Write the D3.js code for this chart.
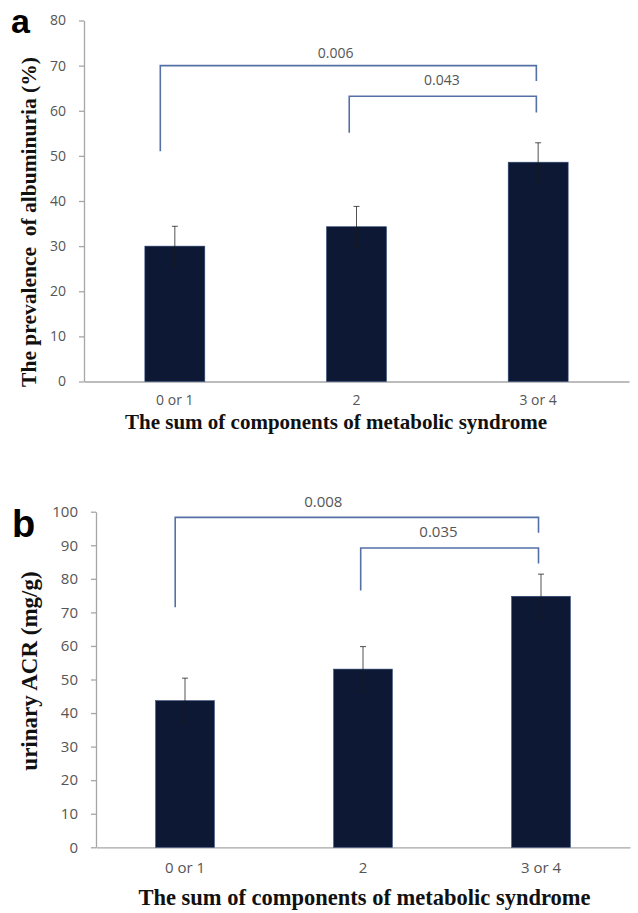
<!DOCTYPE html>
<html>
<head>
<meta charset="utf-8">
<script src="https://cdn.jsdelivr.net/npm/d3@7/dist/d3.min.js"></script>
<style>
  html, body { margin: 0; padding: 0; background: #fff; }
  svg { display: block; }
</style>
</head>
<body>
<svg id="chart" width="638" height="913"></svg>
<script>
// ---------- data ----------
const categories = ["0 or 1", "2", "3 or 4"];

const prevalenceValues = [30.0, 34.3, 48.6];
const prevalenceErrors = [4.4, 4.5, 4.3];
const prevalenceTicks = [0, 10, 20, 30, 40, 50, 60, 70, 80];

const acrValues = [43.7, 53.1, 74.8];
const acrErrors = [6.7, 6.7, 6.6];
const acrTicks = [0, 10, 20, 30, 40, 50, 60, 70, 80, 90, 100];

// brackets: endpoints as (fractional) category index, heights in data units
const prevalenceBrackets = [
  { from: -0.08, to: 1.99, top: 70.0, fromBottom: 51.0, toBottom: 66.6, label: "0.006", labelAt: 0.885, labelY: 72.9 },
  { from: 0.96,  to: 1.99, top: 63.2, fromBottom: 55.1, toBottom: 59.6, label: "0.043", labelAt: 1.47,  labelY: 66.9 }
];
const acrBrackets = [
  { from: -0.055, to: 1.986, top: 98.3, fromBottom: 71.5, toBottom: 93.7, label: "0.008", labelAt: 0.777, labelY: 103.3 },
  { from: 0.987,  to: 1.986, top: 89.2, fromBottom: 76.5, toBottom: 84.6, label: "0.035", labelAt: 1.424, labelY: 94.3 }
];

// ---------- drawing ----------
const svg = d3.select("#chart");
const BAR = "#0c1834";
const BRACKET = "#5470a6";
const TEXT = "#555555";
const AXIS = "#a6a6a6";
const SANS = "'Open Sans', Lato, sans-serif";

function drawPanel(cfg) {
  const g = svg.append("g");
  const x = d3.scaleBand().domain(categories).range([cfg.x0, cfg.x1]).paddingInner(0.67).paddingOuter(0.335);
  const y = d3.scaleLinear().domain([0, cfg.max]).range([cfg.y0, cfg.y1]);
  const xi = d3.scaleLinear().domain([0, 2])
    .range([x(categories[0]) + x.bandwidth() / 2, x(categories[2]) + x.bandwidth() / 2]);

  // y axis
  const yAxis = d3.axisLeft(y).tickValues(cfg.ticks).tickSize(5).tickPadding(13).tickSizeOuter(0);
  const ya = g.append("g").attr("transform", `translate(${cfg.x0},0)`).call(yAxis);
  ya.select(".domain").attr("stroke", AXIS).attr("stroke-width", 1.3);
  ya.selectAll(".tick line").attr("stroke", AXIS).attr("stroke-width", 1.3);
  ya.selectAll(".tick text").attr("fill", TEXT).attr("font-family", SANS).attr("font-size", cfg.tickSize);

  // x axis
  const xAxis = d3.axisBottom(x).tickSize(0).tickPadding(cfg.xPad);
  const xa = g.append("g").attr("transform", `translate(0,${cfg.y0})`).call(xAxis);
  xa.select(".domain").attr("stroke", AXIS).attr("stroke-width", 1.3);
  xa.selectAll(".tick text").attr("fill", TEXT).attr("font-family", SANS).attr("font-size", cfg.tickSize);

  // bars
  g.selectAll("rect.bar").data(cfg.values).join("rect")
    .attr("class", "bar")
    .attr("x", (d, i) => x(categories[i]))
    .attr("width", x.bandwidth())
    .attr("y", d => y(d))
    .attr("height", d => y(0) - y(d))
    .attr("fill", BAR)
    .attr("stroke", "#34497a").attr("stroke-width", 0.6);

  // error bars
  const eb = g.selectAll("g.err").data(cfg.values).join("g").attr("class", "err");
  eb.append("line")
    .attr("x1", (d, i) => x(categories[i]) + x.bandwidth() / 2)
    .attr("x2", (d, i) => x(categories[i]) + x.bandwidth() / 2)
    .attr("y1", (d, i) => y(d - cfg.errors[i]))
    .attr("y2", (d, i) => y(d + cfg.errors[i]));
  eb.append("line")
    .attr("x1", (d, i) => x(categories[i]) + x.bandwidth() / 2 - 3)
    .attr("x2", (d, i) => x(categories[i]) + x.bandwidth() / 2 + 3)
    .attr("y1", (d, i) => y(d + cfg.errors[i]))
    .attr("y2", (d, i) => y(d + cfg.errors[i]));
  eb.append("line")
    .attr("x1", (d, i) => x(categories[i]) + x.bandwidth() / 2 - 3)
    .attr("x2", (d, i) => x(categories[i]) + x.bandwidth() / 2 + 3)
    .attr("y1", (d, i) => y(d - cfg.errors[i]))
    .attr("y2", (d, i) => y(d - cfg.errors[i]));
  eb.selectAll("line").attr("stroke", "#1a1a1a").attr("stroke-width", 1).attr("opacity", 0.75);

  // brackets
  const br = g.selectAll("g.br").data(cfg.brackets).join("g").attr("class", "br");
  br.append("path")
    .attr("d", d => `M${xi(d.from)},${y(d.fromBottom)}V${y(d.top)}H${xi(d.to)}V${y(d.toBottom)}`)
    .attr("fill", "none").attr("stroke", BRACKET).attr("stroke-width", 1.6);
  br.append("text")
    .attr("x", d => xi(d.labelAt))
    .attr("y", d => y(d.labelY))
    .attr("text-anchor", "middle")
    .attr("dominant-baseline", "central")
    .attr("fill", TEXT)
    .attr("font-family", SANS)
    .attr("font-size", cfg.tickSize)
    .text(d => d.label);

  // y title
  g.append("text")
    .attr("transform", `translate(${cfg.yTitleX},${cfg.yTitleY}) rotate(-90)`)
    .attr("text-anchor", "middle")
    .attr("font-family", "'Liberation Serif', 'Times New Roman', serif")
    .attr("font-weight", "bold")
    .attr("font-size", cfg.yTitleSize)
    .attr("fill", "#111")
    .style("white-space", "pre")
    .text(cfg.yTitle);

  // x title
  g.append("text")
    .attr("x", cfg.xTitleX)
    .attr("y", cfg.xTitleY)
    .attr("text-anchor", "middle")
    .attr("font-family", "'Liberation Serif', 'Times New Roman', serif")
    .attr("font-weight", "bold")
    .attr("font-size", cfg.xTitleSize)
    .attr("fill", "#111")
    .text("The sum of components of metabolic syndrome");

  // panel letter
  g.append("text")
    .attr("x", cfg.letterX)
    .attr("y", cfg.letterY)
    .attr("font-family", "'Liberation Sans', Arial, sans-serif")
    .attr("font-weight", "bold")
    .attr("font-size", cfg.letterSize)
    .attr("fill", "#000")
    .text(cfg.letter);
}

drawPanel({
  values: prevalenceValues, errors: prevalenceErrors, ticks: prevalenceTicks, max: 80,
  brackets: prevalenceBrackets, tickSize: 14,
  x0: 84, x1: 629, y0: 381.5, y1: 20.5, xPad: 14,
  yTitle: "The prevalence  of albuminuria (%)", yTitleX: 36, yTitleY: 222, yTitleSize: 21.5,
  xTitleX: 336, xTitleY: 429, xTitleSize: 21,
  letter: "a", letterX: 11, letterY: 33, letterSize: 34
});

drawPanel({
  values: acrValues, errors: acrErrors, ticks: acrTicks, max: 100,
  brackets: acrBrackets, tickSize: 15,
  x0: 96, x1: 630, y0: 847.3, y1: 511.7, xPad: 15,
  yTitle: "urinary ACR (mg/g)", yTitleX: 37, yTitleY: 671, yTitleSize: 23,
  xTitleX: 364.5, xTitleY: 905, xTitleSize: 22.5,
  letter: "b", letterX: 12, letterY: 537, letterSize: 38
});
</script>
</body>
</html>
